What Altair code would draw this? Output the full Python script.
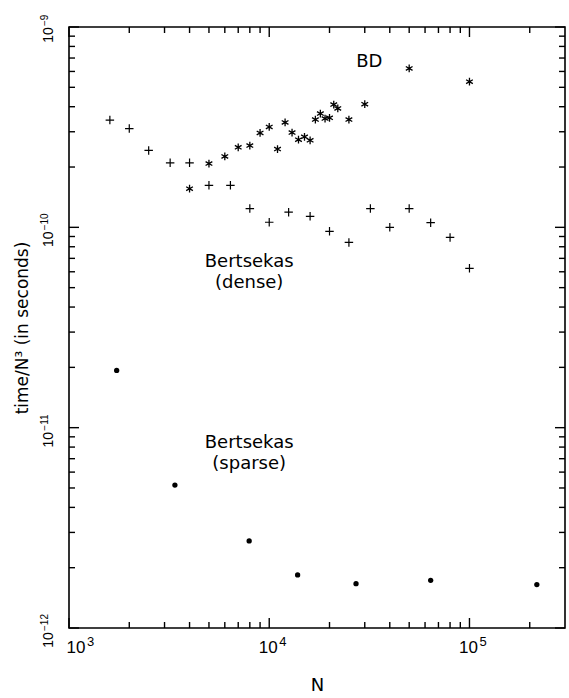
import altair as alt
import pandas as pd

# ---- data ----
dense_n = [1600, 2000, 2500, 3200, 4000, 5000, 6400, 8000, 10000, 12500, 16000,
           20000, 25000, 32000, 40000, 50000, 64000, 80000, 100000]
dense_t = [3.43e-10, 3.11e-10, 2.42e-10, 2.10e-10, 2.10e-10, 1.62e-10, 1.62e-10,
           1.24e-10, 1.06e-10, 1.19e-10, 1.135e-10, 9.55e-11, 8.41e-11, 1.24e-10,
           1.0e-10, 1.24e-10, 1.055e-10, 8.9e-11, 6.24e-11]

bd_n = [4000, 5000, 6000, 7000, 8000, 9000, 10000, 11000, 12000, 13000, 14000,
        15000, 16000, 17000, 18000, 19000, 20000, 21000, 22000, 25000, 30000,
        50000, 100000]
bd_t = [1.56e-10, 2.08e-10, 2.26e-10, 2.51e-10, 2.56e-10, 2.96e-10, 3.17e-10,
        2.46e-10, 3.34e-10, 2.97e-10, 2.74e-10, 2.83e-10, 2.72e-10, 3.45e-10,
        3.70e-10, 3.49e-10, 3.52e-10, 4.10e-10, 3.92e-10, 3.45e-10, 4.12e-10,
        6.21e-10, 5.33e-10]

sparse_n = [1730, 3380, 7940, 13860, 27130, 64000, 217000]
sparse_t = [1.93e-11, 5.17e-12, 2.72e-12, 1.84e-12, 1.665e-12, 1.73e-12, 1.647e-12]

ann_text = ["BD", "Bertsekas\n(dense)", "Bertsekas\n(sparse)"]
ann_n = [31600, 7940, 7940]
ann_t = [6.71e-10, 6.68e-11, 8.35e-12]

x_major = [1e3, 1e4, 1e5]
x_minor = [2e3, 3e3, 4e3, 5e3, 6e3, 7e3, 8e3, 9e3,
           2e4, 3e4, 4e4, 5e4, 6e4, 7e4, 8e4, 9e4, 2e5]
y_major = [1e-12, 1e-11, 1e-10, 1e-9]
y_minor = [k * 10.0 ** e for e in (-12, -11, -10) for k in range(2, 10)]

label_base = "10"
x_label_exp = ["3", "4", "5"]
y_label_exp = ["\u221212", "\u221211", "\u221210", "\u22129"]

x_title = "N"
y_title = "time/N\u00b3  (in  seconds)"

W, H = 496, 601
FONT = "DejaVu Sans"
LFONT = "Liberation Sans"

xs = alt.Scale(type="log", domain=[1000, 300000], nice=False)
ys = alt.Scale(type="log", domain=[1e-12, 1e-9], nice=False)

xaxis = alt.Axis(values=x_major, labels=False, ticks=False, tickSize=0,
                 domain=False, grid=False, title=x_title, titleFont=FONT,
                 titleFontSize=18, titleFontWeight="normal", titleColor="black",
                 titlePadding=48)
yaxis = alt.Axis(values=y_major, labels=False, ticks=False, tickSize=0,
                 domain=False, grid=False, title=y_title, titleFont=FONT,
                 titleFontSize=17, titleFontWeight="normal", titleColor="black",
                 titlePadding=38)


def X(field="n"):
    return alt.X(f"{field}:Q", scale=xs, axis=xaxis, title=x_title)


def Y(field="t"):
    return alt.Y(f"{field}:Q", scale=ys, axis=yaxis, title=y_title)


dense_df = pd.DataFrame({"n": dense_n, "t": dense_t})
bd_df = pd.DataFrame({"n": bd_n, "t": bd_t})
sparse_df = pd.DataFrame({"n": sparse_n, "t": sparse_t})
ann_df = pd.DataFrame({"n": ann_n, "t": ann_t, "label": ann_text})

PLUS = "M-1,0L1,0M0,-1L0,1"
STAR = "M0,-1L0,1M-0.87,-0.5L0.87,0.5M-0.87,0.5L0.87,-0.5"

dense = alt.Chart(dense_df).mark_point(shape=PLUS, filled=False, stroke="black",
                                        strokeWidth=1.2, size=72, opacity=1).encode(x=X(), y=Y())
bd = alt.Chart(bd_df).mark_point(shape=STAR, filled=False, stroke="black",
                                  strokeWidth=1.3, size=60, opacity=1).encode(x=X(), y=Y())
sparse = alt.Chart(sparse_df).mark_circle(size=28, color="black", opacity=1).encode(x=X(), y=Y())
ann = alt.Chart(ann_df).mark_text(font=FONT, fontSize=18, lineBreak="\n", lineHeight=21,
                                  align="center", baseline="middle", color="black").encode(
    x=X(), y=Y(), text="label:N")


# ---- tick labels (10 with superscript exponent), placed through the scales ----
def x_labels(vals, exps, base_dx):
    df = pd.DataFrame({"n": vals, "b": [label_base] * len(vals), "e": exps})
    base = alt.Chart(df).mark_text(font=LFONT, fontSize=17, align="center",
                                   baseline="alphabetic", color="black", dx=base_dx).encode(
        x=X(), y=alt.value(H + 25), text="b:N")
    sup = alt.Chart(df).mark_text(font=LFONT, fontSize=13, align="left",
                                  baseline="alphabetic", color="black",
                                  dx=base_dx + 11, dy=-7).encode(
        x=X(), y=alt.value(H + 25), text="e:N")
    return [base, sup]


def y_labels(vals, exps, base_dx):
    df = pd.DataFrame({"t": vals, "b": [label_base] * len(vals), "e": exps})
    base = alt.Chart(df).mark_text(font=LFONT, fontSize=14, align="center",
                                   baseline="alphabetic", color="black", angle=270,
                                   dx=base_dx).encode(
        y=Y(), x=alt.value(-16), text="b:N")
    sup = alt.Chart(df).mark_text(font=LFONT, fontSize=10, align="left",
                                  baseline="alphabetic", color="black", angle=270,
                                  dx=base_dx + 9, dy=-5).encode(
        y=Y(), x=alt.value(-16), text="e:N")
    return [base, sup]


label_layers = (x_labels(x_major[:1], x_label_exp[:1], 7)
                + x_labels(x_major[1:], x_label_exp[1:], -1)
                + y_labels(y_major[:3], y_label_exp[:3], -12)
                + y_labels(y_major[3:], y_label_exp[3:], -8))


# ---- inward ticks on all four sides ----
def xticks(vals, length, top):
    df = pd.DataFrame({"n": vals})
    if top:
        yy = dict(y=alt.value(0), y2=alt.value(length))
    else:
        yy = dict(y=alt.value(H), y2=alt.value(H - length))
    return alt.Chart(df).mark_rule(color="black", strokeWidth=1.4).encode(x=X(), **yy)


def yticks(vals, length, right):
    df = pd.DataFrame({"t": vals})
    if right:
        xx = dict(x=alt.value(W), x2=alt.value(W - length))
    else:
        xx = dict(x=alt.value(0), x2=alt.value(length))
    return alt.Chart(df).mark_rule(color="black", strokeWidth=1.4).encode(y=Y(), **xx)


tick_layers = [
    xticks(x_major, 10, False), xticks(x_minor, 6, False),
    xticks(x_major, 10, True), xticks(x_minor, 6, True),
    yticks(y_major, 10, False), yticks(y_minor, 6, False),
    yticks(y_major, 10, True), yticks(y_minor, 6, True),
]

chart = alt.layer(dense, bd, sparse, ann, *label_layers, *tick_layers).properties(
    width=W, height=H,
    autosize=alt.AutoSizeParams(type="none"),
    padding={"left": 69, "top": 27, "right": 569 - 69 - W, "bottom": 698 - 27 - H},
    background="white",
).configure_view(stroke="black", strokeWidth=1.6)

chart.save("out.html", embed_options={"renderer": "svg", "actions": False})
